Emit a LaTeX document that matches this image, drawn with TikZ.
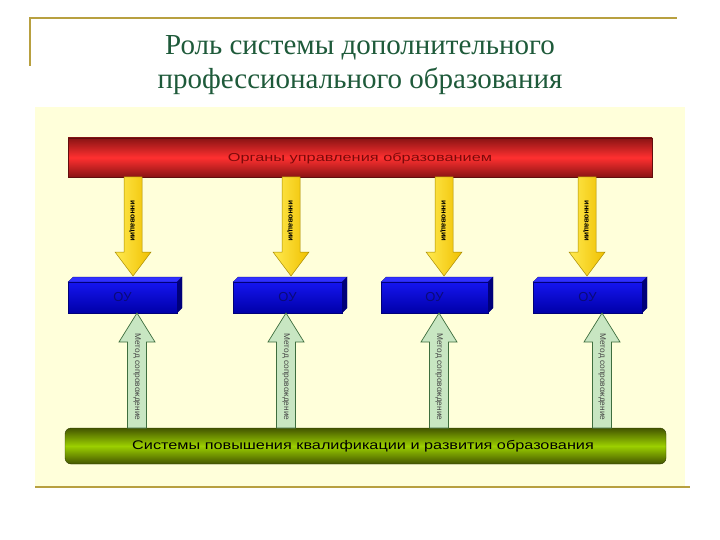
\documentclass[tikz,border=0pt]{standalone}
\usepackage{fontspec}
\setmainfont{Liberation Serif}
\newfontfamily\arialf{Liberation Sans}
\usetikzlibrary{shapes.geometric}
\definecolor{gold}{HTML}{B8A040}
\definecolor{panel}{HTML}{FFFFDA}
\definecolor{titlegreen}{HTML}{1E5A3A}
\definecolor{redmid}{HTML}{FF3030}
\definecolor{reddark}{HTML}{8A1414}
\definecolor{redtext}{HTML}{7A0A0A}
\definecolor{yelL}{HTML}{FFEA50}
\definecolor{yelR}{HTML}{F0C000}
\definecolor{yelD}{HTML}{A88A00}
\definecolor{grnF}{HTML}{C8E6C2}
\definecolor{grnD}{HTML}{3E6E3E}
\definecolor{olvD}{HTML}{435500}
\definecolor{olvM}{HTML}{9CD000}
\definecolor{bluT}{HTML}{3030FF}
\definecolor{bluF1}{HTML}{1515F0}
\definecolor{bluF2}{HTML}{0000A8}
\definecolor{bluR}{HTML}{00007A}
\definecolor{blutext}{HTML}{0A0A78}
\newcommand\mkYellowArrow[2]{%
  \path[yarrow] (#1-9,177) -- (#1+9,177) -- (#1+9,252) -- (#1+18,252) -- (#1,276)
     -- (#1-18,252) -- (#1-9,252) -- cycle;
  \node[ylabel] (#2) at (#1-1,221) {инновации};}
\newcommand\mkGreenArrow[2]{%
  \path[garrow] (#1-9.5,428) -- (#1+9.5,428) -- (#1+9.5,342) -- (#1+18,342) -- (#1,313)
     -- (#1-18,342) -- (#1-9.5,342) -- cycle;
  \node[glabel] (#2) at (#1,377) {Метод сопровождение};}
\newcommand\mkBlueBox[3]{%
  \path[fill=bluT,draw=bluR,line width=0.3pt] (#1,282) -- (#1+5,277) -- (#2+5,277) -- (#2,282) -- cycle;
  \path[fill=bluR,draw=bluR,line width=0.3pt] (#2,282) -- (#2+5,277) -- (#2+5,308) -- (#2,313) -- cycle;
  \path[top color=bluF1,bottom color=bluF2,draw=bluR,line width=0.3pt] (#1,282) rectangle (#2,313);
  \node[boxtext] (#3) at ({(#1+#2)/2},297.5) {ОУ};}
\begin{document}
\begin{tikzpicture}[x=1pt,y=-1pt,
  yarrow/.style={left color=yelL,right color=yelR,draw=yelD,line width=0.5pt},
  garrow/.style={fill=grnF,draw=grnD,line width=0.7pt},
  ylabel/.style={rotate=-90,font=\arialf\bfseries\fontsize{7.5}{8}\selectfont,text=black,inner sep=0pt},
  glabel/.style={rotate=-90,font=\arialf\fontsize{8.3}{9}\selectfont,text=black!72,inner sep=0pt},
  boxtext/.style={font=\arialf\fontsize{13}{14}\selectfont,text=blutext,inner sep=0pt},
  titletext/.style={font=\fontsize{29}{32}\selectfont,text=titlegreen,inner sep=0pt,anchor=base}]
\useasboundingbox (0,0) rectangle (720,540);
\fill[white] (0,0) rectangle (720,540);
% frame lines
\draw[gold,line width=2pt] (30,66) -- (30,18) -- (677,18);
\fill[panel] (35,107) rectangle (685,486);
\draw[gold,line width=1.2pt] (35,487) -- (690,487);
% title
\node[titletext] (t1) at (360,55) {Роль системы дополнительного};
\node[titletext] (t2) at (360,89) {профессионального образования};
% red bar
\path[top color=reddark,bottom color=reddark,middle color=redmid,draw=reddark!70!black,line width=0.4pt]
  (68,138) rectangle (652,177);
\node[font=\arialf\fontsize{11.5}{12}\selectfont,text=redtext,inner sep=0pt] (organs) at (360,158)
  {\scalebox{1.42}[1]{Органы управления образованием}};
% yellow arrows
\mkYellowArrow{133}{y1}
\mkYellowArrow{291}{y2}
\mkYellowArrow{444}{y3}
\mkYellowArrow{587}{y4}
% blue boxes
\mkBlueBox{68}{177}{b1}
\mkBlueBox{233}{342}{b2}
\mkBlueBox{381}{488}{b3}
\mkBlueBox{533}{642}{b4}
% green bar
\path[top color=olvD,bottom color=olvD,middle color=olvM,draw=olvD!70!black,line width=0.4pt,rounded corners=6pt]
  (65,428) rectangle (666,464);
\node[font=\arialf\fontsize{12.5}{13}\selectfont,text=black,inner sep=0pt] (systems) at (363,446)
  {\scalebox{1.30}[1]{Системы повышения квалификации и развития образования}};
% green arrows
\mkGreenArrow{137}{g1}
\mkGreenArrow{286}{g2}
\mkGreenArrow{439}{g3}
\mkGreenArrow{602}{g4}
\end{tikzpicture}
\end{document}
